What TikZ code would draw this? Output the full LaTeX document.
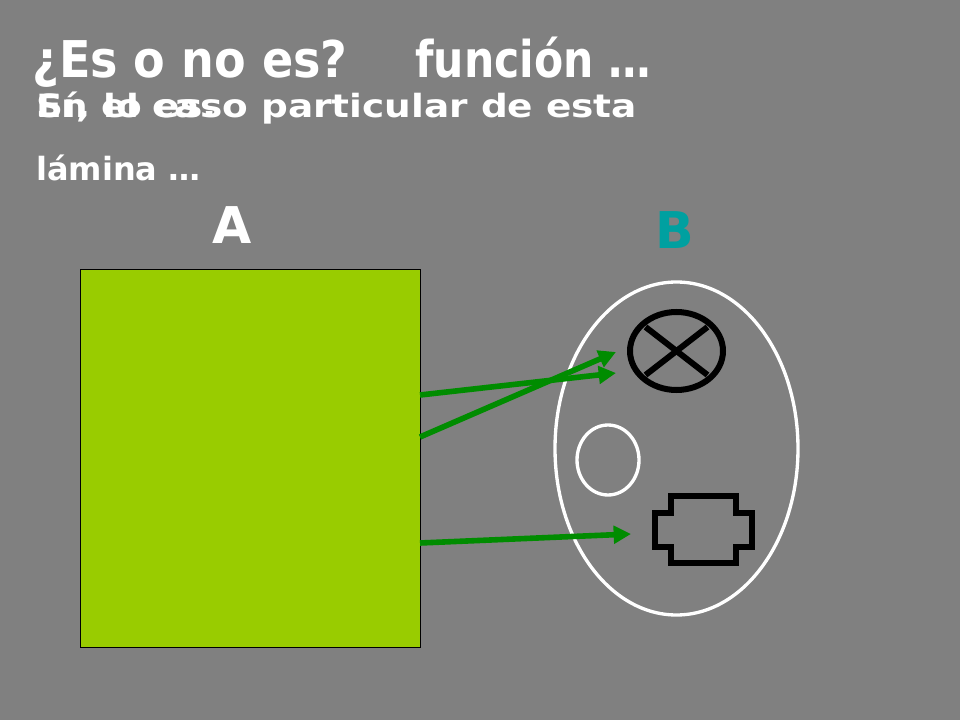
\documentclass[tikz,border=0pt]{standalone}
\usepackage{fontspec}
\setmainfont{DejaVu Sans}
\usetikzlibrary{arrows.meta,shapes.geometric}
\definecolor{bg}{HTML}{808080}
\definecolor{limefill}{HTML}{99CC00}
\definecolor{arrgreen}{HTML}{008C00}
\definecolor{tealB}{HTML}{00A0A0}
\tikzset{
  titletext/.style={text=white, font=\fontsize{38}{46}\selectfont\bfseries, inner sep=0pt, anchor=base west},
  paratext/.style={text=white, font=\fontsize{24}{29}\selectfont\bfseries, inner sep=0pt, anchor=base west},
  setlabel/.style={font=\fontsize{38}{46}\selectfont\bfseries, inner sep=0pt, anchor=base},
  maparrow/.style={draw=arrgreen, line width=4.2pt, -{Triangle[length=13pt,width=13pt]}},
  blackshape/.style={draw=black, line width=4.5pt},
  whiteshape/.style={draw=white, line width=2.5pt}
}
\begin{document}
\begin{tikzpicture}[x=0.75pt,y=-0.75pt]
\fill[bg] (0,0) rectangle (960,720);
\useasboundingbox (0,0) rectangle (960,720);
% texts
\node[titletext] (t1) at (32,78) {\scalebox{0.91}[1]{¿Es o no es?}};
\node[titletext] (t2) at (415,78) {\scalebox{0.84}[1]{función …}};
\node[paratext] (p1) at (36,118) {\scalebox{1.17}[1]{Sí, lo es.}};
\node[paratext] (p2) at (36,118) {\scalebox{1.17}[1]{En el caso particular de esta}};
\node[paratext] (p3) at (36,181) {lámina …};
\node[setlabel, text=white] (A) at (232,244) {A};
\node[setlabel, text=tealB] (B) at (675,249) {B};
% set A
\node[draw=black, line width=0.75pt, fill=limefill, minimum width=255pt, minimum height=283.5pt, inner sep=0pt] (setA) at (250,458.5) {};
% set B
\node[ellipse, whiteshape, minimum width=182.25pt, minimum height=249.75pt, inner sep=0pt] (setB) at (676.5,448.5) {};
\node[ellipse, blackshape, minimum width=69.75pt, minimum height=58.5pt, inner sep=0pt] (cross) at (676.5,351) {};
\draw[blackshape] (cross.center) +(-31,-24) -- +(31,24);
\draw[blackshape] (cross.center) +(31,-24) -- +(-31,24);
\node[ellipse, whiteshape, minimum width=46.5pt, minimum height=52.5pt, inner sep=0pt] (circ) at (608,460) {};
\coordinate (plug) at (703,529.5);
\draw[blackshape] (plug) ++(-32,-33.5) -- ++(64.5,0) -- ++(0,17) -- ++(16.5,0) -- ++(0,33.5) -- ++(-16.5,0) -- ++(0,16.5) -- ++(-64.5,0) -- ++(0,-16.5) -- ++(-16.5,0) -- ++(0,-33.5) -- ++(16.5,0) -- cycle;
% arrows
\coordinate (a1) at (420,395);
\coordinate (a2) at (420,437);
\coordinate (a3) at (420,543);
\coordinate (b1) at (616,373);
\coordinate (b2) at (616,352);
\coordinate (b3) at (631,534);
\draw[maparrow] (a1) -- (b1);
\draw[maparrow] (a2) -- (b2);
\draw[maparrow] (a3) -- (b3);
\end{tikzpicture}
\end{document}
